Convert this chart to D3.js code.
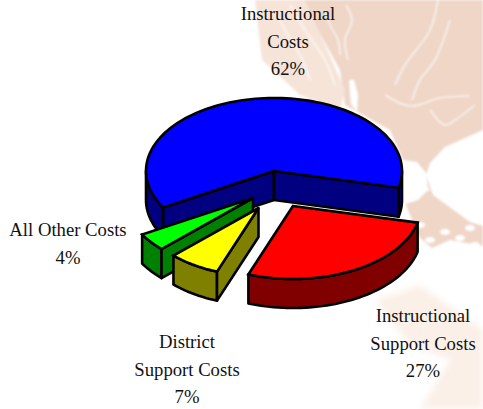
<!DOCTYPE html>
<html><head><meta charset="utf-8">
<script src="https://cdnjs.cloudflare.com/ajax/libs/d3/7.8.5/d3.min.js"></script>
<style>html,body{margin:0;padding:0;background:#fff;overflow:hidden}svg{display:block}text{font-family:"Liberation Serif",serif;font-size:18.7px;fill:#111;text-anchor:middle}</style>
</head><body><svg id="c" width="483" height="409"></svg>
<script>
// Data
const categories = ["Instructional Costs","Instructional Support Costs","District Support Costs","All Other Costs"];
const shares = [62,27,7,4];
const labelLines = [["Instructional","Costs","62%"],["Instructional","Support Costs","27%"],["District","Support Costs","7%"],["All Other Costs","4%"]];
const topColors = ["#0000ff","#ff0000","#ffff00","#00ff00"];
const wallColors = ["#000080","#800000","#808000","#008000"];

// Layout
const W=483,H=409, RX=128, RY=73, DEPTH=29;
const centres = [[274,171],[293,206],[258.5,208],[253,198]];
const radiusK = [1,1,.93,1];
const labelPos = [[288,14],[423,316],[187,342],[68,230]];
const LINE=27.7;
const svg=d3.select("#c");
const rad=d3.scaleLinear().domain([0,360]).range([0,2*Math.PI]);
const pie=d3.pie().sort(null).startAngle(rad(240)).endAngle(rad(600));
const arcs=pie(shares);

// Background texture
const defs=svg.append("defs");
defs.append("filter").attr("id","b").append("feGaussianBlur").attr("stdDeviation",1.1);
defs.append("filter").attr("id","b2").append("feGaussianBlur").attr("stdDeviation",3);
const bg=svg.append("g").attr("filter","url(#b)");
const peach="#efd6c7";
bg.append("path").attr("fill",peach).attr("d","M300,0L483,0L483,130L445,147L430,163L426,175L433,195L470,222L483,226L483,246L450,240L432,248L420,238L410,215L404,200L430,190L403,160L390,130L345,105L340,70L318,30Z");
bg.append("path").attr("fill","#f6e4d8").attr("d","M255,0L305,0L345,90L340,110L300,95L262,60Z");
bg.append("path").attr("fill","#fff").attr("d","M349,80L354,80L358,95L357,112L351,104Z");
bg.append("path").attr("fill","#fff").attr("d","M402,160L417,162L426,173L428,190L418,200L405,204Z");
svg.append("g").attr("filter","url(#b2)").append("path").attr("fill","#fbf0e8").attr("d","M375,300L420,285L483,330L483,409L420,409L450,360L410,345Z");
const streaks=[[385,95,410,106,440,98,470,96],[395,85,405,65,430,30,438,0],[412,100,420,80,435,60,450,20],[290,5,305,30,325,60,335,85],[275,10,285,30,300,55,310,80],[346,5,352,20,345,40,348,60],[430,110,445,125,455,120,475,105],[325,10,330,25,338,40,340,55]];
streaks.forEach(s=>{bg.append("path").attr("fill","none").attr("stroke","#fff").attr("stroke-opacity",.7).attr("stroke-width",1.6)
 .attr("d",d3.line().curve(d3.curveCatmullRom)([[s[0],s[1]],[s[2],s[3]],[s[4],s[5]],[s[6],s[7]]]));});
[[420,225],[430,240],[445,232],[460,238],[470,228],[415,240],[475,245],[452,245]].forEach(p=>bg.append("ellipse").attr("cx",p[0]).attr("cy",p[1]).attr("rx",5).attr("ry",3).attr("fill","#fff"));

// Pie geometry
function pt(i,a,dy=0){const k=radiusK[i],c=centres[i];return [c[0]+RX*k*Math.sin(a),c[1]-RY*k*Math.cos(a)+dy];}
function rim(i,a0,a1,dy=0){const n=Math.max(2,Math.ceil(Math.abs(a1-a0)/rad(2)));return d3.range(n+1).map(j=>pt(i,a0+(a1-a0)*j/n,dy));}
const line=d3.line();
function wall(g,pts,col){g.append("path").attr("d",line(pts)+"Z").attr("fill",col).attr("stroke","#000").attr("stroke-width",2.6).attr("stroke-linejoin","round");}
function drawSlice(i){
  const g=svg.append("g").attr("class","slice"), d=arcs[i], a0=d.startAngle, a1=d.endAngle, c=centres[i];
  const col=wallColors[i];
  // visible front rim: angles 90..270 (mod 360)
  const ranges=[[rad(90),rad(270)],[rad(450),rad(630)]];
  ranges.forEach(([lo,hi])=>{const s=Math.max(a0,lo),e=Math.min(a1,hi);
    if(e>s) wall(g,rim(i,s,e).concat(rim(i,e,s,DEPTH)),col);});
  // radial faces turned to the viewer
  const face=a=>wall(g,[c,pt(i,a),pt(i,a,DEPTH),[c[0],c[1]+DEPTH]],col);
  if(i===0){face(a0);face(a1);}
  if(i===2||i===3){face(a0);}
  g.append("path").attr("d",line([c,...rim(i,a0,a1)])+"Z").attr("fill",topColors[i]).attr("stroke","#000").attr("stroke-width",2.6).attr("stroke-linejoin","miter");
}
[0,1,3,2].forEach(drawSlice);

// Labels
categories.forEach((name,i)=>{
  const t=svg.append("text").attr("aria-label",name);
  labelLines[i].forEach((l,j)=>t.append("tspan").attr("x",labelPos[i][0]).attr("y",labelPos[i][1]+j*LINE+6).text(l));
});
</script></body></html>
